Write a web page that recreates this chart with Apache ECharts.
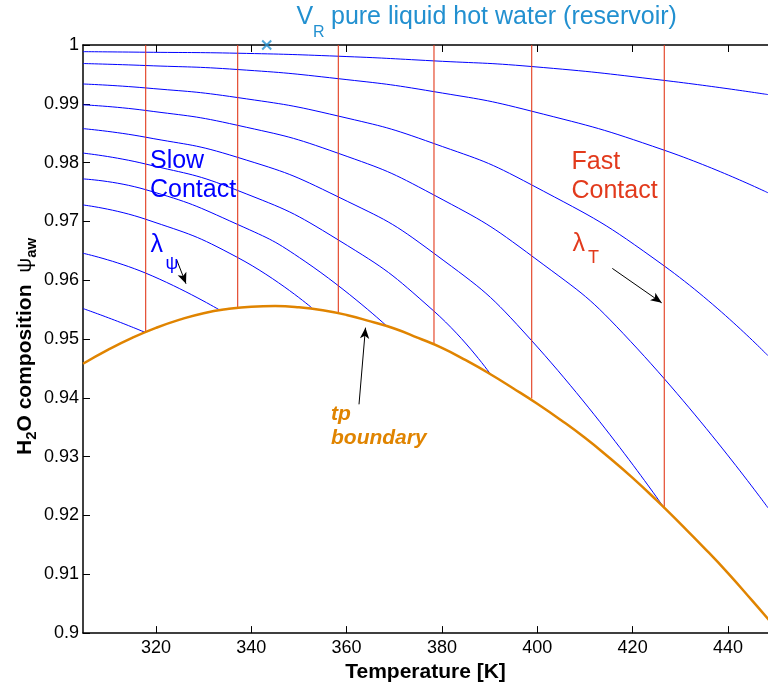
<!DOCTYPE html>
<html><head><meta charset="utf-8">
<script src="https://cdn.jsdelivr.net/npm/echarts@6/dist/echarts.min.js"></script>
<style>html,body{margin:0;padding:0;background:#fff}#c{width:768px;height:688px}</style>
</head><body><div id="c"></div>
<script>
// ---- axis ticks ----
const xTicks = [320, 340, 360, 380, 400, 420, 440];
const yTicks = [0.9, 0.91, 0.92, 0.93, 0.94, 0.95, 0.96, 0.97, 0.98, 0.99, 1];
const xRange = [304.7, 448.4];
const yRange = [0.9, 1.0];

// ---- tp boundary (orange) ----
const tpBoundaryT   = [304.7, 310, 315, 320, 325, 330, 335, 340, 345, 350, 355, 360, 365, 370, 375, 380, 385, 390, 395, 400, 405, 410, 415, 420, 425, 430, 435, 440, 445, 450];
const tpBoundaryPsi = [0.9458, 0.9482, 0.9502, 0.9519, 0.9533, 0.9544, 0.9551, 0.9555, 0.9556, 0.9554, 0.9549, 0.9541, 0.9530, 0.9518, 0.9502, 0.9485, 0.9464, 0.9441, 0.9416, 0.9390, 0.9362, 0.9332, 0.9299, 0.9264, 0.9226, 0.9186, 0.9145, 0.9102, 0.9056, 0.9009];

// ---- lambda_psi curves (blue) [T, psi] ----
const lambda1  = [[304.7,0.99887],[317.85,0.99877],[337.15,0.99860],[358.3,0.99809],[378.3,0.99730],[398.8,0.99634],[426.6,0.99398],[448.4,0.99157]];
const lambda2  = [[304.7,0.99685],[317.85,0.99651],[337.15,0.99583],[358.3,0.99427],[378.3,0.99207],[398.8,0.98875],[426.6,0.98212],[448.4,0.97487]];
const lambda3  = [[304.7,0.99337],[317.85,0.99270],[337.15,0.99106],[358.3,0.98791],[378.3,0.98325],[398.8,0.97622],[426.6,0.96245],[448.4,0.94717]];
const lambda4  = [[304.7,0.98983],[317.85,0.98887],[337.15,0.98634],[358.3,0.98157],[378.3,0.97450],[399.5,0.96374],[419.6,0.94958],[448.4,0.92130]];
const lambda5  = [[304.7,0.98578],[317.85,0.98432],[337.15,0.98089],[358.3,0.97415],[378.3,0.96459],[398.8,0.94975],[426.6,0.92130]];
const lambda6  = [[304.7,0.98162],[317.85,0.97976],[337.15,0.97526],[358.3,0.96683],[378.3,0.95476],[390.4,0.94379]];
const lambda7  = [[304.7,0.97723],[317.85,0.97540],[337.15,0.96948],[351.3,0.96319],[368.4,0.95223]];
const lambda8  = [[304.7,0.97280],[317.85,0.97037],[337.15,0.96386],[352.7,0.95531]];
const lambda9  = [[304.7,0.96459],[317.85,0.96121],[333.4,0.95492]];
const lambda10 = [[304.7,0.95519],[311.3,0.95322],[317.85,0.95110]];

// ---- lambda_T contact lines (red verticals) ----
const contactT      = [317.85, 337.15, 358.26, 378.33, 398.83, 426.64];
const contactBottom = [0.95115, 0.95543, 0.95435, 0.94929, 0.93991, 0.92120];

// ---- reservoir point ----
const reservoirPoint = [343.24, 1.0];

// ---- annotation arrows [from, to] in data units ----
const arrowFrom = [[349.17, 1.00337], [324.36, 0.96346], [415.74, 0.96201], [362.60, 0.93890]];
const arrowTo   = [[344.62, 1.00113], [326.31, 0.95941], [426.10, 0.95616], [363.96, 0.95194]];

const FONT = '"Liberation Sans", Arial, Helvetica, sans-serif';
const BLUE = '#0000ff', RED = '#e23a1c', ORANGE = '#e08400', SKY = '#2290d0';

const chart = echarts.init(document.getElementById('c'), null, {renderer: 'canvas'});

const series = [];
[lambda1, lambda2, lambda3, lambda4, lambda5, lambda6, lambda7, lambda8, lambda9, lambda10].forEach(c => {
  series.push({type: 'line', data: c, symbol: 'none', smooth: 0.5, silent: true,
    lineStyle: {color: BLUE, width: 1}, z: 2});
});
contactT.forEach((t, i) => {
  series.push({type: 'line', data: [[t, yRange[1]], [t, contactBottom[i]]], symbol: 'none', silent: true,
    lineStyle: {color: RED, width: 1.1}, z: 3});
});
series.push({type: 'line', data: tpBoundaryT.map((t, i) => [t, tpBoundaryPsi[i]]), symbol: 'none',
  smooth: 0.5, silent: true, lineStyle: {color: ORANGE, width: 2.5}, z: 4});
series.push({type: 'scatter', data: [reservoirPoint], symbol: 'path://M0,0L10,10M10,0L0,10', symbolSize: 9,
  itemStyle: {color: 'none', borderColor: SKY, borderWidth: 2}, clip: false, silent: true, z: 6});
series.push({type: 'line', data: [], clip: false, silent: true, z: 7,
  markLine: {silent: true, symbol: ['none', 'arrow'], symbolSize: [7, 11], label: {show: false},
    lineStyle: {color: '#000', width: 1, type: 'solid'}, emphasis: {disabled: true},
    data: arrowFrom.map((a, i) => [{coord: a}, {coord: arrowTo[i]}])}});

const axisCommon = {
  axisLine: {show: true, onZero: false, lineStyle: {color: '#000', width: 1.5}},
  splitLine: {show: false}
};

chart.setOption({
  animation: false,
  backgroundColor: '#fff',
  grid: {left: 83, right: 0, top: 45, bottom: 50, containLabel: false},
  xAxis: [
    Object.assign({type: 'value', position: 'bottom', min: xRange[0], max: xRange[1],
      name: 'Temperature [K]', nameLocation: 'middle', nameGap: 22,
      nameTextStyle: {fontFamily: FONT, fontWeight: 'bold', fontSize: 21, color: '#000'},
      axisTick: {inside: true, length: 7, customValues: xTicks, lineStyle: {color: '#000', width: 1}},
      axisLabel: {customValues: xTicks, fontFamily: FONT, fontSize: 18, color: '#000', margin: 6}}, axisCommon),
    Object.assign({type: 'value', position: 'top', min: xRange[0], max: xRange[1],
      axisTick: {inside: true, length: 7, customValues: xTicks, lineStyle: {color: '#000', width: 1}},
      axisLabel: {show: false}}, axisCommon)
  ],
  yAxis: [
    Object.assign({type: 'value', min: yRange[0], max: yRange[1], interval: 0.01,
      axisTick: {inside: true, length: 7, lineStyle: {color: '#000', width: 1}},
      axisLabel: {fontFamily: FONT, fontSize: 18, color: '#000', margin: 4,
        formatter: v => String(+v.toFixed(2))}}, axisCommon)
  ],
  series: series
});

// ---- annotations (positions in data units) ----
const P = (t, v) => chart.convertToPixel({xAxisIndex: 0, yAxisIndex: 0}, [t, v]);
const txt = (t, v, text, font, color) => {
  const p = P(t, v);
  return {type: 'text', x: p[0], y: p[1], silent: true, z: 100,
    style: {text: text, font: font, fill: color, align: 'left', verticalAlign: 'middle',
      textAlign: 'left', textVerticalAlign: 'middle'}};
};
const F25 = '25px ' + FONT, F18 = '18px ' + FONT, F16 = '16px ' + FONT;
const FTP = 'italic bold 21px ' + FONT;
const graphics = [
  txt(349.49, 1.00470, 'V', F25, SKY),
  txt(352.95, 1.00217, 'R', F16, SKY),
  txt(356.72, 1.00470, 'pure liquid hot water (reservoir)', F25, SKY),
  txt(318.75, 0.98030, 'Slow', F25, BLUE),
  txt(318.75, 0.97536, 'Contact', F25, BLUE),
  txt(407.18, 0.98016, 'Fast', F25, RED),
  txt(407.18, 0.97519, 'Contact', F25, RED),
  txt(318.86, 0.96590, 'λ', F25, BLUE),
  txt(322.00, 0.96280, 'ψ', F18, BLUE),
  txt(407.39, 0.96615, 'λ', F25, RED),
  txt(410.64, 0.96375, 'T', F18, RED),
  txt(356.72, 0.93730, 'tp', FTP, ORANGE),
  txt(356.72, 0.93310, 'boundary', FTP, ORANGE)
];

// ---- rotated y-axis title with subscripts ----
const ctx = document.createElement('canvas').getContext('2d');
const measure = (s, f) => { ctx.font = f; return ctx.measureText(s).width; };
const YB = 'bold 21px ' + FONT, YS = 'bold 15px ' + FONT, YP = '21px ' + FONT;
const parts = [
  {s: 'H', f: YB, dy: 0}, {s: '2', f: YS, dy: 7}, {s: 'O composition  ', f: YB, dy: 0},
  {s: 'ψ', f: YP, dy: 0}, {s: 'aw', f: YS, dy: 7}
];
let cx = 0;
const kids = parts.map(pt => {
  const el = {type: 'text', x: cx, y: pt.dy, silent: true,
    style: {text: pt.s, font: pt.f, fill: '#000', align: 'left', verticalAlign: 'middle',
      textAlign: 'left', textVerticalAlign: 'middle'}};
  cx += measure(pt.s, pt.f);
  return el;
});
graphics.push({type: 'group', x: 25, y: 455, rotation: Math.PI / 2, children: kids, z: 100});

chart.setOption({graphic: graphics});
</script></body></html>
